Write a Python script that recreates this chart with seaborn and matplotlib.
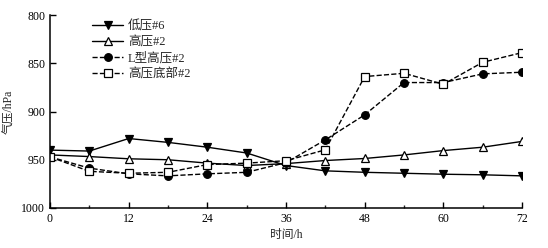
import numpy as np
import pandas as pd
import matplotlib
matplotlib.use("Agg")
import matplotlib.pyplot as plt
import seaborn as sns
from matplotlib.ticker import MultipleLocator

sns.set_style("ticks")
plt.rcParams['font.family'] = ['Liberation Serif', 'Noto Sans CJK SC']

# data
hours = [0, 6, 12, 18, 24, 30, 36, 42, 48, 54, 60, 66, 72]
low6 = [940, 941, 928, 932, 937, 943, 956, 961.5, 963, 964, 965, 965.6, 966.7]
high2 = [945, 946.7, 949, 950, 953.5, 956, 954, 950.8, 948.7, 945, 940.5, 937, 931]
ltype2 = [947, 958.7, 964.6, 966.7, 964.6, 963, 953, 929.4, 903.5, 870, 870, 861, 859.3]
bottom2 = [947, 962, 964, 963, 955, 953.5, 951, 939.7, 863.8, 860.4, 871.8, 849, 839]

labels = ["低压#6", "高压#2", "L型高压#2", "高压底部#2"]
values = [low6, high2, ltype2, bottom2]
markers = ["v", "^", "o", "s"]
faces = ["black", "white", "black", "white"]
styles = ["-", "-", "--", "--"]

fig, ax = plt.subplots(figsize=(5.48, 2.48), dpi=100)
fig.subplots_adjust(left=0.0912, right=0.9526, top=0.9395, bottom=0.1613)

for lab, vals, m, fc, ls in zip(labels, values, markers, faces, styles):
    sns.lineplot(x=hours, y=vals, ax=ax, color="black", marker=m,
                 markerfacecolor=fc, markeredgecolor="black", markeredgewidth=0.9,
                 markersize=5.5, linestyle=ls, linewidth=1, label=lab)

ax.set_xlim(0, 72)
ax.set_ylim(1000, 800)
ax.xaxis.set_major_locator(MultipleLocator(12))
ax.xaxis.set_minor_locator(MultipleLocator(6))
ax.yaxis.set_major_locator(MultipleLocator(50))
ax.tick_params(which="major", direction="in", length=4, width=1, labelsize=8.5, colors="black")
ax.tick_params(which="minor", direction="in", length=2.5, width=1)
sns.despine(ax=ax)
for sp in ax.spines.values():
    sp.set_linewidth(1.1)
    sp.set_color("black")

ax.set_xlabel("时间/h", fontsize=8.5, labelpad=3)
ax.set_ylabel("气压/hPa", fontsize=8.5, labelpad=4)

ax.legend(loc="upper left", bbox_to_anchor=(0.065, 1.03), frameon=False, fontsize=9,
          handlelength=2.5, labelspacing=0.3, handletextpad=0.4)

fig.savefig("out.png", dpi=100)
